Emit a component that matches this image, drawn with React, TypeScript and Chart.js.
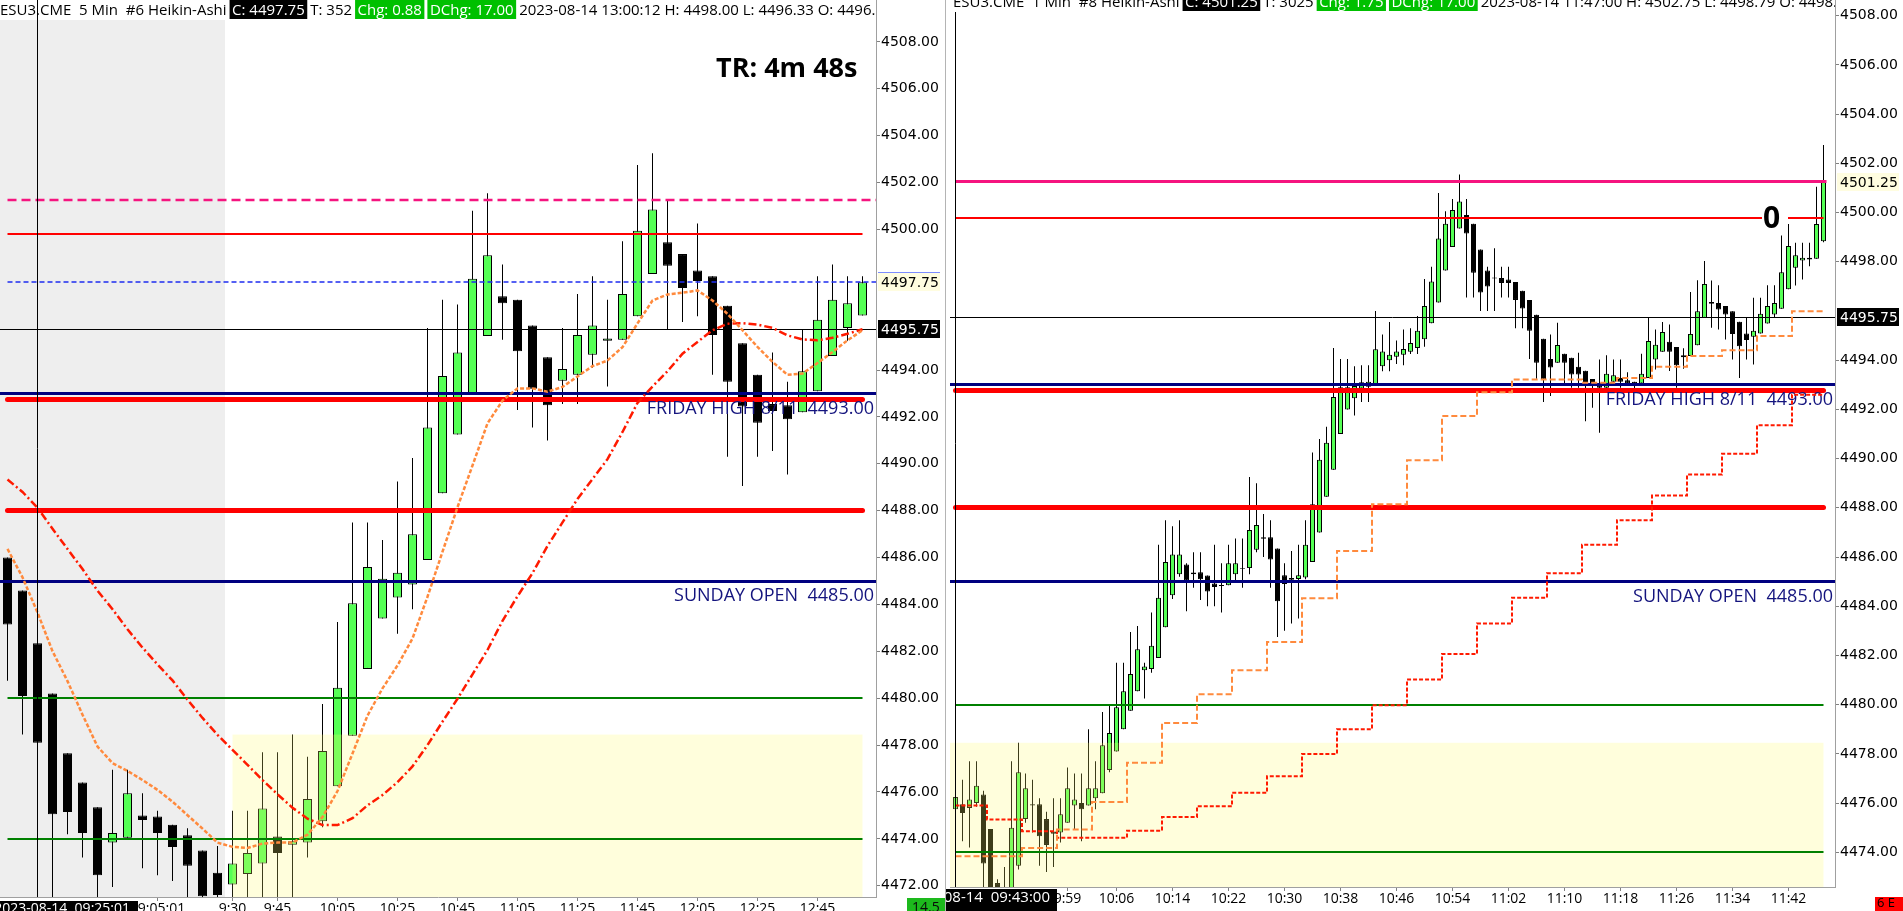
import React, { useEffect, useRef } from "react";
import { Chart, registerables } from "chart.js";

Chart.register(...registerables);
Chart.defaults.font.family = "Open Sans";

/* ---------- 5-minute Heikin-Ashi bars, 08:15 to 13:00 ---------- */
const fiveMinFirstBar = "8:15";
const fiveMinSessionOpen = "9:30";
const fiveMinOpen = [
  4486.0, 4484.6, 4482.35, 4480.2, 4477.65, 4476.4, 4475.35, 4473.85, 4474.05, 4475.0,
  4474.95, 4474.6, 4474.15, 4473.5, 4472.55, 4472.05, 4472.5, 4472.95, 4474.1, 4473.75,
  4473.85, 4474.75, 4476.25, 4478.4, 4481.25, 4483.4, 4484.3, 4484.85, 4485.9, 4488.75,
  4491.25, 4493.0, 4495.45, 4497.15, 4497.0, 4495.9, 4494.55, 4493.55, 4493.8, 4494.65,
  4495.25, 4495.3, 4496.3, 4498.1, 4499.45, 4498.95, 4498.25, 4498.0, 4496.75, 4495.15,
  4493.8, 4492.55, 4492.5, 4492.2, 4493.1, 4494.6, 4495.8, 4496.33,
];
const fiveMinHigh = [
  4486.0, 4484.6, 4482.35, 4480.2, 4477.65, 4476.4, 4475.35, 4476.95, 4476.95, 4475.95,
  4475.2, 4474.6, 4474.45, 4473.5, 4473.7, 4475.2, 4475.2, 4477.7, 4477.7, 4478.45,
  4477.5, 4479.75, 4483.25, 4487.5, 4487.5, 4486.75, 4489.25, 4490.25, 4495.8, 4497.0,
  4496.8, 4500.8, 4501.55, 4498.5, 4497.0, 4495.9, 4494.55, 4495.8, 4497.25, 4498.0,
  4497.0, 4499.5, 4502.75, 4503.25, 4501.25, 4498.95, 4500.25, 4498.0, 4496.75, 4495.15,
  4493.8, 4494.75, 4493.5, 4495.75, 4498.0, 4498.5, 4498.0, 4498.0,
];
const fiveMinLow = [
  4480.75, 4478.45, 4476.5, 4471.0, 4474.2, 4473.2, 4471.0, 4471.95, 4474.05, 4472.75,
  4472.45, 4472.2, 4471.0, 4471.0, 4471.0, 4471.0, 4471.0, 4471.0, 4471.0, 4471.0,
  4473.2, 4474.5, 4476.25, 4478.4, 4481.25, 4483.4, 4482.75, 4483.8, 4485.9, 4488.75,
  4491.25, 4493.0, 4495.45, 4495.3, 4492.3, 4491.55, 4491.0, 4492.55, 4492.55, 4494.1,
  4493.3, 4495.3, 4496.3, 4498.1, 4495.75, 4496.05, 4496.3, 4493.8, 4490.3, 4489.05,
  4490.3, 4490.55, 4489.55, 4492.2, 4493.1, 4494.6, 4495.25, 4496.33,
];
const fiveMinClose = [
  4483.15, 4480.1, 4478.1, 4475.05, 4475.15, 4474.25, 4472.45, 4474.25, 4475.95, 4474.8,
  4474.25, 4473.65, 4472.85, 4471.55, 4471.6, 4472.95, 4473.4, 4475.3, 4473.4, 4473.9,
  4475.7, 4477.75, 4480.45, 4484.05, 4485.6, 4485.1, 4485.35, 4487.0, 4491.55, 4493.75,
  4494.75, 4497.9, 4498.9, 4496.85, 4494.8, 4493.2, 4492.5, 4494.05, 4495.5, 4495.9,
  4495.35, 4497.25, 4499.95, 4500.85, 4498.45, 4497.5, 4497.8, 4495.5, 4493.5, 4492.45,
  4491.75, 4492.25, 4491.9, 4493.95, 4496.15, 4497.0, 4496.85, 4497.75,
];
// fast (orange) and slow (red) moving averages of the 5-minute bars
const fiveMinFastMA = [
  4486.37, 4485.16, 4483.66, 4482.01, 4480.73, 4479.3, 4477.94, 4477.23, 4476.9, 4476.51,
  4476.09, 4475.59, 4475.01, 4474.44, 4473.84, 4473.66, 4473.61, 4473.8, 4473.84, 4473.84,
  4474.18, 4474.93, 4476.04, 4477.64, 4479.26, 4480.42, 4481.4, 4482.55, 4484.33, 4486.25,
  4488.15, 4489.93, 4491.73, 4492.7, 4493.22, 4493.22, 4493.08, 4493.28, 4493.73, 4494.17,
  4494.41, 4494.98, 4495.99, 4496.97, 4497.23, 4497.3, 4497.4, 4496.97, 4496.4, 4495.7,
  4494.99, 4494.35, 4493.8, 4493.85, 4494.3, 4494.77, 4495.27, 4495.7,
];
const fiveMinSlowMA = [
  4489.33, 4488.8, 4488.13, 4487.23, 4486.37, 4485.51, 4484.59, 4483.8, 4482.94, 4482.16,
  4481.44, 4480.76, 4479.94, 4479.16, 4478.44, 4477.8, 4477.16, 4476.51, 4475.9, 4475.33,
  4474.86, 4474.59, 4474.59, 4474.88, 4475.43, 4475.87, 4476.42, 4477.09, 4478.0, 4479.0,
  4479.98, 4481.02, 4482.06, 4483.3, 4484.35, 4485.34, 4486.5, 4487.5, 4488.5, 4489.35,
  4490.2, 4491.36, 4492.6, 4493.3, 4493.95, 4494.7, 4495.2, 4495.7, 4495.98, 4496.0,
  4495.94, 4495.8, 4495.48, 4495.31, 4495.27, 4495.38, 4495.55, 4495.74,
];
const fiveMinTickTimes = ["9:05", "9:30", "9:45", "10:05", "10:25", "10:45", "11:05", "11:25", "11:45", "12:05", "12:25", "12:45"];
const fiveMinTickLabels = ["09:05:01", "9:30", "9:45", "10:05", "10:25", "10:45", "11:05", "11:25", "11:45", "12:05", "12:25", "12:45"];
const fiveMinPriceTicks = [4472, 4474, 4476, 4478, 4480, 4482, 4484, 4486, 4488, 4490, 4492, 4494, 4500, 4502, 4504, 4506, 4508];
const fiveMinCrosshairTime = "8:25";

/* ---------- 1-minute Heikin-Ashi bars, 09:43 to 11:47 ---------- */
const oneMinFirstBar = "9:43";
const oneMinOpen = [
  4475.75, 4475.95, 4475.8, 4476.0, 4476.35, 4474.95, 4472.75, 4472.4, 4472.3, 4473.45,
  4475.35, 4475.95, 4475.95, 4475.35, 4474.85, 4474.8, 4475.2, 4475.9, 4476.0, 4475.9,
  4476.2, 4476.4, 4477.35, 4478.1, 4479.0, 4479.75, 4480.55, 4481.4, 4481.45, 4481.9,
  4483.15, 4484.45, 4485.3, 4485.7, 4485.37, 4485.38, 4485.25, 4484.92, 4484.86, 4484.85,
  4485.3, 4485.56, 4485.55, 4486.3, 4486.8, 4486.8, 4486.35, 4485.26, 4485.08, 4485.11,
  4485.17, 4485.8, 4487.0, 4488.45, 4489.55, 4491.0, 4492.0, 4492.45, 4492.85, 4492.92,
  4493.0, 4493.75, 4494.0, 4494.14, 4494.22, 4494.34, 4494.5, 4494.85, 4495.5, 4496.35,
  4497.65, 4498.6, 4499.35, 4499.9, 4499.55, 4498.5, 4497.65, 4497.36, 4497.34, 4497.28,
  4497.18, 4496.82, 4496.45, 4495.85, 4494.87, 4494.05, 4493.9, 4494.26, 4494.1, 4493.73,
  4493.57, 4493.24, 4493.05, 4492.88, 4493.12, 4493.28, 4493.19, 4493.12, 4493.05, 4493.28,
  4494.03, 4494.34, 4494.75, 4494.54, 4494.12, 4494.17, 4494.61, 4495.72, 4496.37, 4496.33,
  4496.2, 4495.99, 4495.56, 4495.09, 4494.95, 4495.09, 4495.49, 4495.86, 4496.09, 4496.88,
  4497.76, 4498.05, 4498.09, 4498.12, 4498.83,
];
const oneMinHigh = [
  4476.4, 4476.95, 4477.7, 4477.7, 4476.5, 4474.95, 4472.9, 4473.4, 4477.7, 4478.45,
  4477.2, 4476.95, 4476.2, 4475.65, 4476.2, 4476.2, 4477.45, 4477.2, 4477.2, 4479.0,
  4477.7, 4479.7, 4479.95, 4481.7, 4481.7, 4482.95, 4483.2, 4481.7, 4483.75, 4486.5,
  4487.5, 4487.25, 4487.5, 4485.75, 4486.2, 4486.2, 4485.25, 4486.5, 4485.75, 4486.5,
  4486.75, 4486.75, 4489.25, 4489.0, 4487.75, 4487.5, 4486.35, 4485.75, 4486.25, 4486.5,
  4487.5, 4490.25, 4490.8, 4491.3, 4494.5, 4494.05, 4494.05, 4493.75, 4493.8, 4493.8,
  4496.0, 4495.05, 4495.55, 4494.8, 4495.25, 4495.3, 4495.8, 4497.3, 4497.8, 4500.8,
  4500.05, 4500.55, 4501.55, 4500.55, 4499.55, 4498.5, 4497.8, 4498.55, 4497.8, 4497.8,
  4497.18, 4496.82, 4496.45, 4495.85, 4494.87, 4495.05, 4495.52, 4494.26, 4494.1, 4494.3,
  4493.57, 4493.24, 4494.03, 4494.2, 4494.03, 4494.03, 4493.51, 4493.12, 4494.26, 4495.75,
  4495.25, 4495.55, 4495.45, 4494.54, 4494.49, 4496.77, 4497.25, 4498.03, 4497.24, 4497.05,
  4496.2, 4495.99, 4495.56, 4495.72, 4496.54, 4496.54, 4497.05, 4497.05, 4499.07, 4499.54,
  4498.77, 4498.77, 4498.77, 4501.05, 4502.75,
];
const oneMinLow = [
  4475.6, 4474.45, 4474.2, 4475.85, 4472.0, 4471.5, 4471.5, 4471.5, 4471.5, 4473.3,
  4475.2, 4474.8, 4473.45, 4473.2, 4473.4, 4474.4, 4475.2, 4474.95, 4474.45, 4475.9,
  4475.75, 4476.4, 4477.25, 4478.1, 4479.0, 4479.75, 4480.55, 4480.25, 4481.3, 4481.9,
  4483.15, 4484.3, 4485.2, 4483.8, 4484.75, 4484.25, 4484.0, 4484.0, 4483.75, 4484.85,
  4485.05, 4484.75, 4485.3, 4486.2, 4486.0, 4484.75, 4482.75, 4483.0, 4483.3, 4483.5,
  4485.1, 4485.8, 4487.0, 4488.45, 4489.55, 4491.0, 4492.0, 4491.75, 4492.3, 4492.3,
  4493.0, 4493.55, 4493.55, 4493.85, 4493.8, 4494.25, 4494.25, 4494.55, 4495.5, 4496.35,
  4497.65, 4498.6, 4499.35, 4496.55, 4496.55, 4496.0, 4496.0, 4496.0, 4496.55, 4496.55,
  4495.3, 4495.3, 4494.05, 4493.25, 4492.3, 4492.55, 4493.9, 4492.95, 4492.88, 4492.88,
  4491.52, 4492.07, 4491.05, 4492.88, 4493.12, 4492.88, 4493.05, 4492.85, 4493.05, 4493.28,
  4493.62, 4494.34, 4493.56, 4492.88, 4493.65, 4494.17, 4494.61, 4495.72, 4495.32, 4495.25,
  4494.84, 4494.03, 4493.28, 4494.03, 4493.83, 4495.09, 4495.49, 4495.72, 4496.09, 4496.88,
  4497.04, 4497.28, 4497.82, 4498.12, 4498.79,
];
const oneMinClose = [
  4476.25, 4475.6, 4476.15, 4476.7, 4473.55, 4472.3, 4472.55, 4472.1, 4475.0, 4477.25,
  4476.6, 4475.9, 4474.65, 4474.3, 4474.75, 4475.55, 4476.6, 4476.15, 4475.75, 4476.6,
  4476.6, 4478.35, 4478.85, 4479.9, 4480.55, 4481.25, 4482.25, 4481.55, 4482.4, 4484.35,
  4485.8, 4486.1, 4486.1, 4485.05, 4485.3, 4485.1, 4484.6, 4484.78, 4484.82, 4485.75,
  4485.75, 4485.52, 4487.1, 4487.3, 4486.74, 4485.9, 4484.2, 4484.9, 4485.15, 4485.26,
  4486.5, 4488.15, 4489.95, 4490.65, 4492.5, 4492.9, 4492.9, 4492.95, 4493.1, 4493.12,
  4494.45, 4494.35, 4494.22, 4494.35, 4494.46, 4494.7, 4495.2, 4496.2, 4497.2, 4498.95,
  4499.55, 4500.1, 4500.45, 4499.15, 4497.55, 4496.75, 4497.0, 4497.32, 4497.14, 4497.14,
  4496.45, 4496.1, 4495.2, 4493.9, 4493.22, 4493.7, 4494.62, 4493.9, 4493.42, 4493.42,
  4493.05, 4493.05, 4492.88, 4493.45, 4493.39, 4493.12, 4493.05, 4493.01, 4493.45, 4494.78,
  4494.63, 4495.15, 4494.34, 4493.8, 4494.2, 4495.07, 4495.99, 4497.1, 4496.29, 4496.06,
  4495.86, 4495.07, 4494.57, 4494.82, 4495.2, 4495.89, 4496.2, 4496.33, 4497.58, 4498.64,
  4498.27, 4498.16, 4498.16, 4499.54, 4501.25,
];
const oneMinTickTimes = ["9:59", "10:06", "10:14", "10:22", "10:30", "10:38", "10:46", "10:54", "11:02", "11:10", "11:18", "11:26", "11:34", "11:42"];
const oneMinPriceTicks = [4474, 4476, 4478, 4480, 4482, 4484, 4486, 4488, 4490, 4492, 4494, 4498, 4500, 4502, 4504, 4506, 4508];
const oneMinCrosshairTime = "9:43";

/* ---------- price levels ---------- */
const pinkLevel = 4501.25;
const upperRedLevel = 4499.8;
const crosshairPrice = 4495.75;
const fridayHigh = 4493.0;
const fridayRedLevel = 4492.75;
const midRedLevel = 4488.0;
const sundayOpen = 4485.0;
const greenUpperLevel = 4480.0;
const greenLowerLevel = 4474.0;
const valueAreaTop = 4478.45;

/* ---------- colours ---------- */
const BODY_UP = "#55FF55";
const PINK = "#F5147F";
const RED = "#FF0000";
const NAVY = "#000080";
const BLUE = "#1E2DF0";
const LEVEL_GREEN = "#008000";
const MA_ORANGE = "#FF8A3D";
const MA_RED = "#FF1A00";

const toMin = (t: string) => {
  const [h, m] = t.split(":").map(Number);
  return h * 60 + m;
};
const fiveMinStart = toMin(fiveMinFirstBar);
const oneMinStart = toMin(oneMinFirstBar);
const fiveIdx = (t: string) => (toMin(t) - fiveMinStart) / 5;
const oneIdx = (t: string) => toMin(t) - oneMinStart;
// the 5-minute averages are shown on the 1-minute chart as steps
const fiveMinIndexAt = (minute: number) => Math.round((minute - fiveMinStart) / 5);

const lastFive = fiveMinClose.length - 1;
const lastOne = oneMinClose.length - 1;

function drawHeader(ctx: CanvasRenderingContext2D, items: any[], x0: number, top: number, clipRight: number) {
  ctx.save();
  ctx.beginPath();
  ctx.rect(0, -40, clipRight, 80);
  ctx.clip();
  ctx.fillStyle = "#fff";
  ctx.fillRect(0, -40, clipRight, top + 60);
  ctx.font = "15px 'Open Sans'";
  ctx.textBaseline = "alphabetic";
  ctx.textAlign = "left";
  let x = x0;
  for (const it of items) {
    const w = ctx.measureText(it.text).width;
    if (it.bg) {
      ctx.fillStyle = it.bg;
      ctx.fillRect(x, top, w + 5, 19);
      ctx.fillStyle = "#fff";
      ctx.fillText(it.text, x + 2.5, top + 15);
      x += w + 5 + 3;
    } else {
      ctx.fillStyle = "#000";
      ctx.fillText(it.text, x, top + 15);
      x += w + 3;
    }
  }
  ctx.restore();
}

function makeChart(canvas: HTMLCanvasElement, spec: any) {
  const n = spec.open.length;
  const last = n - 1;
  const bodies = spec.open.map((o: number, i: number) => ({ x: i, y: [Math.min(o, spec.close[i]), Math.max(o, spec.close[i])] }));
  const wicks = spec.open.map((_: number, i: number) => ({ x: i, y: [spec.low[i], spec.high[i]] }));
  const fills = spec.open.map((o: number, i: number) => (spec.close[i] >= o ? BODY_UP : "#000000"));
  const tickText = new Map<number, string>(spec.tickIdx.map((v: number, i: number) => [v, spec.tickText[i]]));

  const overlay = {
    id: "overlay",
    beforeDraw(chart: any) {
      const { ctx, width, height } = chart;
      ctx.save();
      ctx.fillStyle = "#fff";
      ctx.fillRect(0, 0, width, height);
      ctx.restore();
    },
    beforeDatasetsDraw(chart: any) {
      const { ctx, chartArea: a, scales } = chart;
      ctx.save();
      if (spec.sessionOpenIdx != null) {
        const xb = scales.x.getPixelForValue(spec.sessionOpenIdx - 0.5);
        ctx.fillStyle = "#EEEEEE";
        ctx.fillRect(a.left, a.top, xb - a.left, a.bottom - a.top);
      }
      ctx.restore();
    },
    afterDatasetDraw(chart: any, args: any) {
      if (args.index !== 1) return;
      const { ctx, chartArea: a, scales } = chart;
      const { x, y } = scales;
      // value area shading over the candles
      ctx.save();
      ctx.beginPath();
      ctx.rect(a.left, a.top, a.right - a.left, a.bottom - a.top);
      ctx.clip();
      const vx0 = spec.valueAreaFromIdx == null ? a.left : x.getPixelForValue(spec.valueAreaFromIdx);
      const vx1 = x.getPixelForValue(last);
      const vy0 = y.getPixelForValue(valueAreaTop);
      ctx.fillStyle = "rgba(255, 250, 110, 0.24)";
      ctx.fillRect(vx0, vy0, vx1 - vx0, a.bottom - vy0);
      ctx.restore();

      // horizontal price levels
      ctx.save();
      ctx.beginPath();
      ctx.rect(a.left, 0, a.right - a.left, chart.height);
      ctx.clip();
      for (const lv of spec.levels) {
        const py = y.getPixelForValue(lv.price);
        const yy = lv.width % 2 === 1 ? Math.round(py - 0.5) + 0.5 : Math.round(py);
        const x0 = lv.from === "first" ? x.getPixelForValue(0) : a.left;
        const x1 = lv.to === "last" ? x.getPixelForValue(last) + (lv.extend || 0) : a.right;
        ctx.beginPath();
        ctx.strokeStyle = lv.color;
        ctx.lineWidth = lv.width;
        ctx.setLineDash(lv.dash || []);
        ctx.lineCap = lv.cap || "butt";
        ctx.moveTo(x0, yy);
        ctx.lineTo(x1, yy);
        ctx.stroke();
      }
      ctx.setLineDash([]);
      ctx.font = "18px 'Open Sans'";
      ctx.fillStyle = "#14147E";
      ctx.textAlign = "right";
      ctx.textBaseline = "alphabetic";
      for (const c of spec.captions) {
        ctx.fillText(c.text, a.right - 2, Math.round(y.getPixelForValue(c.price)) + 20);
      }
      ctx.restore();
    },
    afterDraw(chart: any) {
      const { ctx, chartArea: a, scales } = chart;
      const { x, y } = scales;
      const cx = Math.round(x.getPixelForValue(spec.crossIdx) - 0.5) + 0.5;
      const drawCross = () => {
        ctx.save();
        ctx.strokeStyle = "#000";
        ctx.lineWidth = 1;
        ctx.beginPath();
        ctx.moveTo(cx, 0);
        ctx.lineTo(cx, a.bottom);
        ctx.stroke();
        ctx.restore();
      };
      if (!spec.crossOverHeader) drawCross();
      drawHeader(ctx, spec.header, spec.headerX, spec.headerTop, a.right);
      if (spec.crossOverHeader) drawCross();

      // price boxes on the axis
      ctx.save();
      ctx.font = "14px 'DejaVu Sans'";
      ctx.textAlign = "left";
      ctx.textBaseline = "middle";
      for (const b of spec.axisBoxes) {
        const py = Math.round(y.getPixelForValue(b.price));
        ctx.fillStyle = b.bg;
        ctx.fillRect(a.right + 2, py - 9, 62, 18);
        if (b.edge) {
          ctx.fillStyle = b.edge;
          ctx.fillRect(a.right + 2, py - 10, 62, 1);
        }
        ctx.fillStyle = b.fg;
        ctx.fillText(b.price.toFixed(2), a.right + 5, py + 1);
      }
      ctx.restore();

      // crosshair time box
      ctx.save();
      const tb = spec.timeBox;
      ctx.fillStyle = "#000";
      ctx.fillRect(tb.x0, tb.top, tb.x1 - tb.x0, 40);
      ctx.font = tb.font;
      ctx.fillStyle = "#fff";
      ctx.textAlign = "right";
      ctx.textBaseline = "top";
      ctx.fillText(tb.text, tb.textRight, tb.top + 1);
      ctx.restore();

      spec.extras(ctx, chart);
    },
  };

  return new Chart(canvas, {
    type: "bar",
    data: {
      datasets: [
        { type: "bar", data: wicks, backgroundColor: "#000", borderWidth: 0, barThickness: 1, grouped: false, order: 3, inflateAmount: 0 },
        {
          type: "bar", data: bodies, backgroundColor: fills, borderColor: "#000", borderWidth: 1,
          borderSkipped: false, barThickness: spec.bodyWidth, grouped: false, order: 2, inflateAmount: 0,
        },
        {
          type: "line", data: spec.fast, borderColor: MA_ORANGE, borderWidth: spec.fastWidth, borderDash: spec.fastDash,
          pointRadius: 0, stepped: spec.stepped ? "middle" : false, order: 1, tension: 0,
        },
        {
          type: "line", data: spec.slow, borderColor: MA_RED, borderWidth: spec.slowWidth, borderDash: spec.slowDash,
          pointRadius: 0, stepped: spec.stepped ? "middle" : false, order: 1, tension: 0,
        },
      ],
    },
    options: {
      responsive: false,
      animation: false,
      devicePixelRatio: 1,
      events: [],
      layout: { padding: { left: spec.padLeft, right: 0, top: 0, bottom: 0 } },
      plugins: { legend: { display: false }, tooltip: { enabled: false } },
      scales: {
        x: {
          type: "linear",
          min: spec.xMin,
          max: spec.xMax,
          offset: false,
          grid: { display: true, offset: false, drawOnChartArea: false, drawTicks: true, tickLength: 4, color: "#808080" },
          border: { display: true, color: "#A0A0A0" },
          ticks: {
            autoSkip: false, maxRotation: 0, includeBounds: false, padding: 0, color: "#000",
            font: { family: "Open Sans", size: 14 },
            callback: (v: number) => tickText.get(v) ?? "",
          },
          afterBuildTicks: (s: any) => {
            s.ticks = spec.tickIdx.map((v: number) => ({ value: v }));
          },
          afterFit: (s: any) => {
            s.height = spec.xAxisHeight;
            s.paddingLeft = 0;
            s.paddingRight = 0;
          },
        },
        y: {
          type: "linear",
          position: "right",
          min: spec.yMin,
          max: spec.yMax,
          beginAtZero: false,
          grid: { drawOnChartArea: false, drawTicks: true, tickLength: 4, color: "#808080" },
          border: { display: true, color: "#A0A0A0" },
          ticks: {
            padding: 1, color: "#000", font: { family: "DejaVu Sans", size: 14 },
            callback: (v: number) => Number(v).toFixed(2),
          },
          afterBuildTicks: (s: any) => {
            s.ticks = spec.priceTicks.map((v: number) => ({ value: v }));
          },
          afterFit: (s: any) => {
            s.width = spec.yAxisWidth;
            s.paddingTop = 0;
            s.paddingBottom = 0;
          },
        },
      },
    },
    plugins: [overlay],
  } as any);
}

/* ---------- chart set-ups ---------- */
const fiveMinSpec = {
  open: fiveMinOpen, high: fiveMinHigh, low: fiveMinLow, close: fiveMinClose,
  fast: fiveMinFastMA.map((v, i) => ({ x: i, y: v })),
  slow: fiveMinSlowMA.map((v, i) => ({ x: i, y: v })),
  fastWidth: 2.5, fastDash: [4, 2], slowWidth: 2.5, slowDash: [8, 3, 2, 3], stepped: false,
  xMin: -0.5, xMax: -0.5 + 876 / 15, yMin: 4471.52, yMax: 4509.79,
  bodyWidth: 9, yAxisWidth: 70, xAxisHeight: 28, padLeft: 0,
  priceTicks: fiveMinPriceTicks,
  tickIdx: fiveMinTickTimes.map(fiveIdx), tickText: fiveMinTickLabels,
  sessionOpenIdx: fiveIdx(fiveMinSessionOpen),
  valueAreaFromIdx: fiveIdx(fiveMinSessionOpen),
  crossIdx: fiveIdx(fiveMinCrosshairTime), crossOverHeader: true,
  levels: [
    { price: pinkLevel, color: PINK, width: 2.5, dash: [9, 5], from: "first", to: "axis" },
    { price: upperRedLevel, color: RED, width: 2, from: "first", to: "last" },
    { price: fiveMinClose[lastFive], color: BLUE, width: 1.5, dash: [5, 3], from: "first", to: "axis" },
    { price: crosshairPrice, color: "#000", width: 1, from: "edge", to: "axis" },
    { price: fridayRedLevel, color: RED, width: 5, from: "first", to: "last", cap: "round" },
    { price: fridayHigh, color: NAVY, width: 3, from: "edge", to: "axis" },
    { price: midRedLevel, color: RED, width: 5, from: "first", to: "last", cap: "round" },
    { price: sundayOpen, color: NAVY, width: 3, from: "edge", to: "axis" },
    { price: greenUpperLevel, color: LEVEL_GREEN, width: 2, from: "first", to: "last" },
    { price: greenLowerLevel, color: LEVEL_GREEN, width: 2, from: "first", to: "last" },
  ],
  captions: [
    { price: fridayHigh, text: `FRIDAY HIGH 8/11  ${fridayHigh.toFixed(2)}` },
    { price: sundayOpen, text: `SUNDAY OPEN  ${sundayOpen.toFixed(2)}` },
  ],
  axisBoxes: [
    { price: fiveMinClose[lastFive], bg: "#FFFDE0", fg: "#000", edge: "#7C8CFF" },
    { price: crosshairPrice, bg: "#000", fg: "#fff" },
  ],
  header: [
    { text: "ESU3.CME  5 Min  #6 Heikin-Ashi" },
    { text: `C: ${fiveMinClose[lastFive].toFixed(2)}`, bg: "#000" },
    { text: "T: 352" },
    { text: "Chg: 0.88", bg: "#00C000" },
    { text: "DChg: 17.00", bg: "#00C000" },
    {
      text: `2023-08-14 13:00:12 H: ${fiveMinHigh[lastFive].toFixed(2)} L: ${fiveMinLow[lastFive].toFixed(2)} O: ${fiveMinOpen[lastFive].toFixed(2)}`,
    },
  ],
  headerX: 0, headerTop: 0,
  timeBox: { x0: 0, x1: 138, top: 901, textRight: 130, text: "2023-08-14  09:25:01", font: "14px 'Open Sans'" },
  extras: (ctx: CanvasRenderingContext2D, chart: any) => {
    ctx.save();
    ctx.font = "bold 27px 'Open Sans'";
    ctx.fillStyle = "#000";
    ctx.textAlign = "left";
    ctx.textBaseline = "alphabetic";
    ctx.fillText("TR: 4m 48s", 716, 77);
    // corner tag under the price axis
    ctx.fillStyle = "#1DB91D";
    ctx.fillRect(907, 898, 39, 30);
    ctx.fillStyle = "#0A0A0A";
    ctx.font = "14px 'Open Sans'";
    ctx.textBaseline = "top";
    ctx.fillText("14.5", 912, 901);
    // panel separator
    ctx.fillStyle = "#B4B4B4";
    ctx.fillRect(chart.width - 1, 0, 1, chart.height);
    ctx.restore();
  },
};

const oneMinSpec = {
  open: oneMinOpen, high: oneMinHigh, low: oneMinLow, close: oneMinClose,
  fast: oneMinClose.map((_, k) => ({ x: k, y: fiveMinFastMA[fiveMinIndexAt(oneMinStart + k)] })),
  slow: oneMinClose.map((_, k) => ({ x: k, y: fiveMinSlowMA[fiveMinIndexAt(oneMinStart + k)] })),
  fastWidth: 2, fastDash: [6, 3], slowWidth: 2, slowDash: [4, 2], stepped: true,
  xMin: -5.5 / 7, xMax: -5.5 / 7 + 885 / 7, yMin: 4472.59, yMax: 4508.64,
  bodyWidth: 5, yAxisWidth: 68, xAxisHeight: 24, padLeft: 4,
  priceTicks: oneMinPriceTicks,
  tickIdx: oneMinTickTimes.map(oneIdx), tickText: oneMinTickTimes,
  sessionOpenIdx: null,
  valueAreaFromIdx: null,
  crossIdx: oneIdx(oneMinCrosshairTime), crossOverHeader: false,
  levels: [
    { price: pinkLevel, color: PINK, width: 3, from: "first", to: "last", extend: 3 },
    { price: upperRedLevel, color: RED, width: 2, from: "first", to: "last" },
    { price: crosshairPrice, color: "#000", width: 1, from: "edge", to: "axis" },
    { price: fridayRedLevel, color: RED, width: 5, from: "first", to: "last", cap: "round" },
    { price: fridayHigh, color: NAVY, width: 3, from: "edge", to: "axis" },
    { price: midRedLevel, color: RED, width: 5, from: "first", to: "last", cap: "round" },
    { price: sundayOpen, color: NAVY, width: 3, from: "edge", to: "axis" },
    { price: greenUpperLevel, color: LEVEL_GREEN, width: 2, from: "first", to: "last" },
    { price: greenLowerLevel, color: LEVEL_GREEN, width: 2, from: "first", to: "last" },
  ],
  captions: [
    { price: fridayHigh, text: `FRIDAY HIGH 8/11  ${fridayHigh.toFixed(2)}` },
    { price: sundayOpen, text: `SUNDAY OPEN  ${sundayOpen.toFixed(2)}` },
  ],
  axisBoxes: [
    { price: oneMinClose[lastOne], bg: "#FFFDE0", fg: "#000" },
    { price: crosshairPrice, bg: "#000", fg: "#fff" },
  ],
  header: [
    { text: "ESU3.CME  1 Min  #8 Heikin-Ashi" },
    { text: `C: ${oneMinClose[lastOne].toFixed(2)}`, bg: "#000" },
    { text: "T: 3025" },
    { text: "Chg: 1.75", bg: "#00C000" },
    { text: "DChg: 17.00", bg: "#00C000" },
    {
      text: `2023-08-14 11:47:00 H: ${oneMinHigh[lastOne].toFixed(2)} L: ${oneMinLow[lastOne].toFixed(2)} O: ${oneMinOpen[lastOne].toFixed(2)}`,
    },
  ],
  headerX: 7, headerTop: -8,
  timeBox: { x0: 0, x1: 111, top: 889, textRight: 104, text: "2023-08-14  09:43:00", font: "15px 'Open Sans'" },
  extras: (ctx: CanvasRenderingContext2D, chart: any) => {
    const { chartArea: a, scales } = chart;
    const ly = Math.round(scales.y.getPixelForValue(upperRedLevel));
    ctx.save();
    ctx.fillStyle = "#fff";
    ctx.fillRect(a.right - 73, ly - 3, 26, 6);
    ctx.font = "bold 30px 'Open Sans'";
    ctx.fillStyle = "#000";
    ctx.textAlign = "left";
    ctx.textBaseline = "alphabetic";
    ctx.fillText("0", a.right - 72, ly + 10);
    // corner tag under the price axis
    ctx.fillStyle = "#FF0000";
    ctx.fillRect(chart.width - 28, 897, 28, 14);
    ctx.fillStyle = "#000";
    ctx.font = "13px 'Open Sans'";
    ctx.textBaseline = "top";
    ctx.fillText("6 E", chart.width - 26, 897);
    ctx.restore();
  },
};

function PriceChart({ spec, left, width, height }: any) {
  const ref = useRef<HTMLCanvasElement | null>(null);
  useEffect(() => {
    if (!ref.current) return;
    const chart = makeChart(ref.current, spec);
    return () => chart.destroy();
  }, [spec]);
  return (
    <canvas
      ref={ref}
      width={width}
      height={height}
      style={{ position: "absolute", left, top: 0, width, height, display: "block" }}
    />
  );
}

export default function App() {
  return (
    <div style={{ position: "fixed", left: 0, top: 0, width: 1903, height: 911, overflow: "hidden", background: "#fff" }}>
      <PriceChart spec={fiveMinSpec} left={0} width={946} height={925} />
      <PriceChart spec={oneMinSpec} left={946} width={957} height={911} />
    </div>
  );
}
